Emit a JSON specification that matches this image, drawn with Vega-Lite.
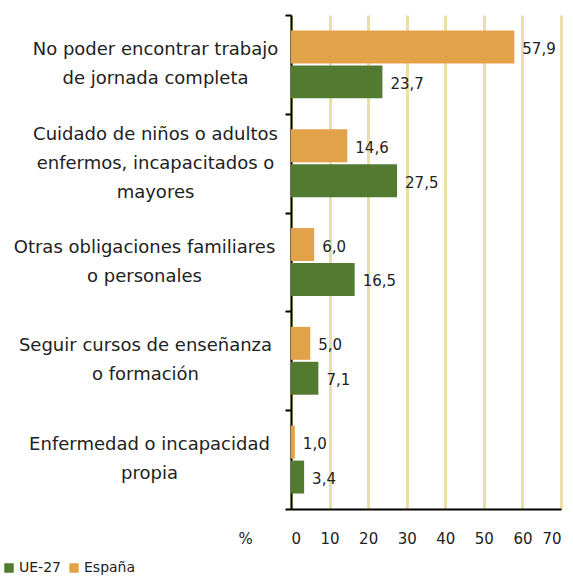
{
  "$schema": "https://vega.github.io/schema/vega-lite/v6.json",
  "width": 270,
  "height": 494,
  "autosize": "none",
  "padding": {"left": 291, "top": 15, "right": 12, "bottom": 69},
  "background": "white",
  "config": {
    "view": {"stroke": null},
    "font": "DejaVu Sans"
  },
  "data": {
    "values": [
      {"cat": "No poder encontrar trabajo|de jornada completa", "serie": "España", "value": 57.9},
      {"cat": "No poder encontrar trabajo|de jornada completa", "serie": "UE-27", "value": 23.7},
      {"cat": "Cuidado de niños o adultos|enfermos, incapacitados o|mayores", "serie": "España", "value": 14.6},
      {"cat": "Cuidado de niños o adultos|enfermos, incapacitados o|mayores", "serie": "UE-27", "value": 27.5},
      {"cat": "Otras obligaciones familiares|o personales", "serie": "España", "value": 6.0},
      {"cat": "Otras obligaciones familiares|o personales", "serie": "UE-27", "value": 16.5},
      {"cat": "Seguir cursos de enseñanza|o formación", "serie": "España", "value": 5.0},
      {"cat": "Seguir cursos de enseñanza|o formación", "serie": "UE-27", "value": 7.1},
      {"cat": "Enfermedad o incapacidad|propia", "serie": "España", "value": 1.0},
      {"cat": "Enfermedad o incapacidad|propia", "serie": "UE-27", "value": 3.4}
    ]
  },
  "encoding": {
    "y": {
      "field": "cat",
      "type": "nominal",
      "sort": null,
      "title": null,
      "scale": {"paddingInner": 0, "paddingOuter": 0},
      "axis": {
        "labelExpr": "datum.value ? split(datum.value, '|') : ''",
        "labelAlign": "center",
        "labelBaseline": "middle",
        "labelLineHeight": 29,
        "labelFontSize": 18,
        "labelLimit": 400,
        "labelFont": "DejaVu Sans",
        "labelColor": "#222222",
        "labelPadding": {
          "condition": [
            {"test": "datum.value == 'Otras obligaciones familiares|o personales'", "value": 141},
            {"test": "datum.value == 'Seguir cursos de enseñanza|o formación'", "value": 140},
            {"test": "datum.value == 'Enfermedad o incapacidad|propia'", "value": 136}
          ],
          "value": 130
        },
        "labelOffset": {
          "condition": [
            {"test": "datum.value == 'Cuidado de niños o adultos|enfermos, incapacitados o|mayores'", "value": -29}
          ],
          "value": -15
        },
        "tickBand": "extent",
        "tickSize": 6,
        "tickWidth": 2,
        "tickColor": "#000000",
        "domainColor": "#000000",
        "domainWidth": 2,
        "grid": false
      }
    },
    "yOffset": {
      "field": "serie",
      "type": "nominal",
      "sort": ["España", "UE-27"],
      "scale": {"paddingInner": 0.057, "paddingOuter": 0.443}
    },
    "x": {
      "field": "value",
      "type": "quantitative",
      "scale": {"domain": [0, 70], "nice": false},
      "axis": {
        "values": [0, 10, 20, 30, 40, 50, 60, 70],
        "ticks": false,
        "labelFontSize": 15,
        "labelFont": "DejaVu Sans",
        "labelColor": "#222222",
        "labelBaseline": "middle",
        "labelPadding": 29,
        "domainColor": "#000000",
        "domainWidth": 2,
        "grid": true,
        "gridColor": "#EBDFA8",
        "gridWidth": 3,
        "title": "%",
        "titleFontSize": 15,
        "titleFontWeight": "normal",
        "titleFont": "DejaVu Sans",
        "titleColor": "#222222",
        "titleX": -46,
        "titleY": 29,
        "titleAlign": "center",
        "titleBaseline": "middle"
      }
    }
  },
  "layer": [
    {
      "mark": {"type": "bar"},
      "encoding": {
        "color": {
          "field": "serie",
          "type": "nominal",
          "scale": {"domain": ["UE-27", "España"], "range": ["#527A30", "#E1A24A"]},
          "legend": {
            "title": null,
            "orient": "none",
            "legendX": -289,
            "legendY": 546,
            "direction": "horizontal",
            "symbolType": "square",
            "symbolSize": 90,
            "symbolStrokeWidth": 0,
            "symbolOpacity": 1,
            "labelFontSize": 14,
            "labelFont": "DejaVu Sans",
            "labelColor": "#222222",
            "labelOffset": 3,
            "columnPadding": 6
          }
        }
      }
    },
    {
      "mark": {"type": "text", "align": "left", "baseline": "middle", "dx": 8, "dy": 2, "fontSize": 15, "font": "DejaVu Sans", "color": "#222222",
        "text": {"expr": "replace(format(datum.value, '.1f'), '.', ',')"}},
      "encoding": {}
    }
  ]
}
